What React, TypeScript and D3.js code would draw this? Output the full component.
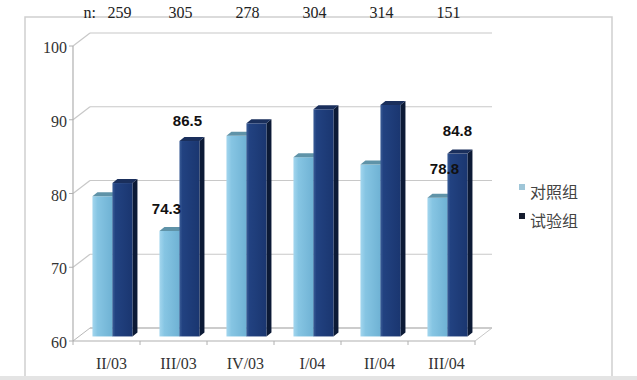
import React from "react";
import * as d3 from "d3";

const categories = ["II/03", "III/03", "IV/03", "I/04", "II/04", "III/04"];
const sampleSizes = ["259", "305", "278", "304", "314", "151"];
const controlValues = [79.0, 74.3, 87.2, 84.3, 83.3, 78.8];
const trialValues = [80.8, 86.5, 88.9, 90.8, 91.4, 84.8];
const seriesNames = ["对照组", "试验组"];
const yTicks = [60, 70, 80, 90, 100];
// annotations: [categoryIndex, seriesIndex, text]
const annotations: [number, number, string][] = [
  [1, 1, "86.5"],
  [1, 0, "74.3"],
  [5, 1, "84.8"],
  [5, 0, "78.8"],
];

const W = 637;
const H = 380;
const front = { x0: 73, x1: 475, yBase: 341 };
const depth = { dx: 17, dy: -13 };
const barDepthFrac = 0.35;
const barW = 20;
const barD = { dx: 5, dy: -4 };

export default function App() {
  const x = d3.scaleBand<string>().domain(categories).range([front.x0, front.x1]).padding(0);
  const y = d3.scaleLinear().domain([60, 100]).range([front.yBase, front.yBase - 295]);
  const bx = barDepthFrac * depth.dx;
  const by = barDepthFrac * depth.dy;
  const groupCenter = (c: string) => (x(c) as number) + x.bandwidth() / 2 + bx;
  const back = (v: number) => y(v) + depth.dy;

  const serif = "'Liberation Serif', 'Times New Roman', serif";
  const sans = "'Liberation Sans', Arial, sans-serif";

  const bars: React.ReactNode[] = [];
  categories.forEach((c, i) => {
    const cx = groupCenter(c);
    [controlValues[i], trialValues[i]].forEach((v, s) => {
      const x0 = cx - barW + s * barW;
      const yt = y(v) + by;
      const yb = y(60) + by;
      const isDark = s === 1;
      const topPts = [
        [x0, yt],
        [x0 + barW, yt],
        [x0 + barW + barD.dx, yt + barD.dy],
        [x0 + barD.dx, yt + barD.dy],
      ];
      const sidePts = [
        [x0 + barW, yt],
        [x0 + barW + barD.dx, yt + barD.dy],
        [x0 + barW + barD.dx, yb + barD.dy],
        [x0 + barW, yb],
      ];
      bars.push(
        <g key={`${i}-${s}`}>
          <polygon points={sidePts.map((p) => p.join(",")).join(" ")} fill={isDark ? "#0c1a36" : "#4f8aa8"} />
          <rect x={x0} y={yt} width={barW} height={yb - yt} fill={isDark ? "url(#gDark)" : "url(#gLight)"} />
          <polygon points={topPts.map((p) => p.join(",")).join(" ")} fill={isDark ? "#1a2f5c" : "#5f93a8"} />
        </g>
      );
    });
  });

  const labelFor = (ci: number, si: number) => {
    const c = categories[ci];
    const cx = groupCenter(c);
    const v = si === 0 ? controlValues[ci] : trialValues[ci];
    const barCx = cx - barW / 2 + si * barW;
    return { x: barCx, yTop: y(v) + by };
  };
  const annotationOffsets = [
    [-2, -15],
    [-3, -17],
    [0, -18],
    [7, -24],
  ];

  return (
    <svg width={W} height={H} style={{ position: "absolute", left: 0, top: 0, background: "#fff" }}>
      <defs>
        <linearGradient id="gLight" x1="0" x2="1" y1="0" y2="0">
          <stop offset="0" stopColor="#a3d6ee" />
          <stop offset="0.25" stopColor="#86c5e3" />
          <stop offset="1" stopColor="#6fb2d4" />
        </linearGradient>
        <linearGradient id="gDark" x1="0" x2="1" y1="0" y2="0">
          <stop offset="0" stopColor="#3a5c96" />
          <stop offset="0.15" stopColor="#224281" />
          <stop offset="1" stopColor="#1a3670" />
        </linearGradient>
      </defs>
      <rect x={0} y={0} width={W} height={H} fill="#fff" />
      {/* outer frame */}
      <rect x={25} y={17} width={587} height={365} fill="none" stroke="#cfcfcf" strokeWidth={1.5} />
      <rect x={0} y={376} width={W} height={4} fill="#e4e4e4" />

      {/* back wall gridlines */}
      {yTicks.slice(1).map((t) => (
        <g key={t}>
          <line x1={front.x0} y1={y(t)} x2={front.x0 + depth.dx} y2={back(t)} stroke="#c8c8c8" strokeWidth={1.2} />
          <line x1={front.x0 + depth.dx} y1={back(t)} x2={front.x1 + depth.dx} y2={back(t)} stroke="#c8c8c8" strokeWidth={1.2} />
        </g>
      ))}
      {/* floor */}
      <line x1={front.x0} y1={y(60)} x2={front.x0 + depth.dx} y2={back(60)} stroke="#b8b8b8" />
      <line x1={front.x0 + depth.dx} y1={back(60)} x2={front.x1 + depth.dx} y2={back(60)} stroke="#9a9a9a" strokeWidth={1.2} />
      <line x1={front.x1 + depth.dx} y1={back(60)} x2={front.x1} y2={y(60)} stroke="#c8c8c8" />
      <line x1={front.x0} y1={y(60)} x2={front.x1} y2={y(60)} stroke="#b0b0b0" strokeWidth={1.2} />
      {categories.map((c, i) => (
        <line key={c} x1={(x(c) as number) + (i === 0 ? 0 : 0)} y1={y(60)} x2={x(c) as number} y2={y(60) + 4} stroke="#b0b0b0" />
      ))}
      <line x1={front.x1} y1={y(60)} x2={front.x1} y2={y(60) + 4} stroke="#b0b0b0" />
      {/* front axis */}
      <line x1={front.x0} y1={y(100)} x2={front.x0} y2={y(60)} stroke="#b0b0b0" strokeWidth={1.2} />
      {yTicks.map((t) => (
        <g key={t}>
          <line x1={front.x0 - 4} y1={y(t)} x2={front.x0} y2={y(t)} stroke="#b0b0b0" />
          <text x={67} y={y(t) + 7} textAnchor="end" fontFamily={serif} fontSize={16} fill="#333">
            {t}
          </text>
        </g>
      ))}

      {bars}

      {/* category labels */}
      {categories.map((c) => (
        <text key={c} x={groupCenter(c) - 1} y={369} textAnchor="middle" fontFamily={serif} fontSize={16} fill="#333">
          {c}
        </text>
      ))}
      {/* sample sizes */}
      <text x={groupCenter(categories[0]) - 29} y={18} fontFamily={serif} fontSize={16} fill="#222">
        n:
      </text>
      {sampleSizes.map((n, i) => (
        <text key={i} x={groupCenter(categories[i]) + (i === 0 ? 7 : 1)} y={18} textAnchor="middle" fontFamily={serif} fontSize={16} fill="#222">
          {n}
        </text>
      ))}

      {/* value annotations */}
      {annotations.map(([ci, si, t], k) => {
        const p = labelFor(ci, si);
        return (
          <text key={k} x={p.x + annotationOffsets[k][0]} y={p.yTop + annotationOffsets[k][1]} textAnchor="middle" fontFamily={sans} fontWeight="bold" fontSize={15} fill="#111">
            {t}
          </text>
        );
      })}

      {/* legend */}
      {seriesNames.map((s, i) => (
        <g key={s}>
          <rect x={519} y={184 + i * 29} width={6} height={6} fill={i === 0 ? "#9fc6d8" : "#161c2e"} />
          <text x={530} y={198 + i * 29} fontFamily="'Noto Sans CJK SC', sans-serif" fontSize={16} fill="#444">
            {s}
          </text>
        </g>
      ))}
    </svg>
  );
}
